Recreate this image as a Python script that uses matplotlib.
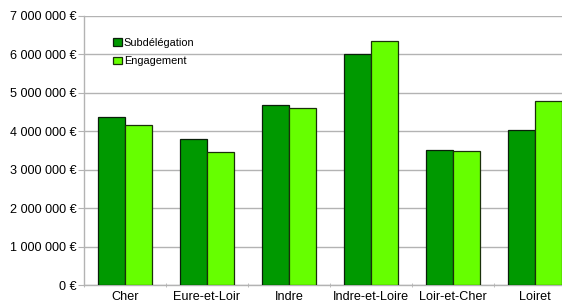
import numpy as np
import matplotlib.pyplot as plt
from matplotlib.ticker import FuncFormatter

# Data
departements = ['Cher', 'Eure-et-Loir', 'Indre', 'Indre-et-Loire', 'Loir-et-Cher', 'Loiret']
subdelegation = [4370000, 3800000, 4680000, 6020000, 3510000, 4030000]
engagement = [4170000, 3450000, 4610000, 6350000, 3490000, 4790000]
yticks = [0, 1000000, 2000000, 3000000, 4000000, 5000000, 6000000, 7000000]

plt.rcParams['font.family'] = ['Liberation Sans', 'DejaVu Sans']

W, H = 562, 301
fig = plt.figure(figsize=(W / 100, H / 100), dpi=100)
# axes runs past the right edge of the picture, as in the reference
ax = fig.add_axes([84 / W, 16 / H, 492 / W, 269 / H])

x = np.arange(len(departements))
bw = 0.335
ax.bar(x - bw / 2, subdelegation, bw, color='#009900', edgecolor='#0a1f0a',
       linewidth=0.9, label='Subdélégation', zorder=3)
ax.bar(x + bw / 2, engagement, bw, color='#66ff00', edgecolor='#1a300a',
       linewidth=0.9, label='Engagement', zorder=3)

ax.set_xlim(-0.5, len(departements) - 0.5)
ax.set_ylim(0, 7000000)
ax.set_yticks(yticks)
ax.yaxis.set_major_formatter(FuncFormatter(
    lambda v, p: '{:,.0f} €'.format(v).replace(',', ' ')))
ax.set_xticks(x)
ax.set_xticklabels(departements)
ax.set_xticks(np.arange(len(departements) + 1) - 0.5, minor=True)

ax.grid(axis='y', color='#b3b3b3', linewidth=1, zorder=0)
for s in ['top', 'right']:
    ax.spines[s].set_visible(False)
for s in ['left', 'bottom']:
    ax.spines[s].set_color('#b3b3b3')
    ax.spines[s].set_linewidth(1)

ax.tick_params(axis='y', length=4, color='#b3b3b3', labelsize=9.1, pad=1.5)
ax.tick_params(axis='x', which='major', length=0, labelsize=9.1, pad=4)
ax.tick_params(axis='x', which='minor', length=3, direction='inout', color='#b3b3b3')

ax.legend(loc='upper left', bbox_to_anchor=(113 / W, 1 - 38 / H),
          bbox_transform=fig.transFigure, frameon=False, fontsize=7.9,
          handlelength=0.8, handleheight=0.7, handletextpad=0.2,
          borderpad=0, borderaxespad=0, labelspacing=0.75)

fig.savefig('out.png', dpi=100)
